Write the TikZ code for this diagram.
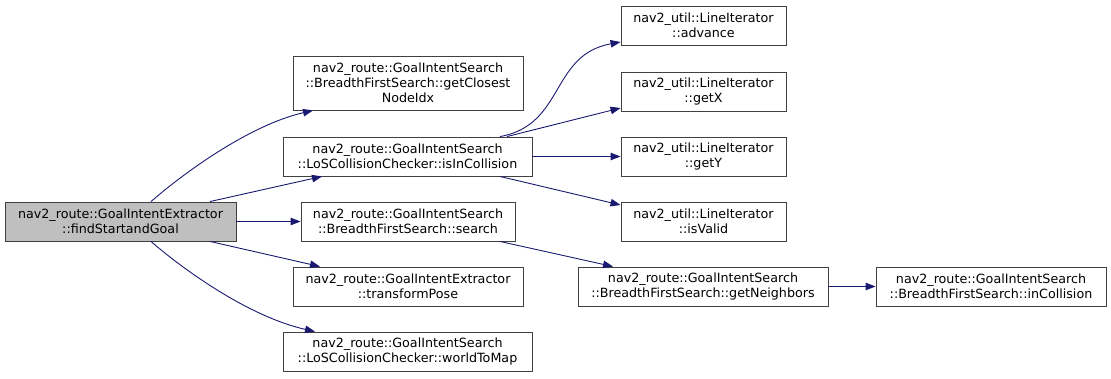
\documentclass[tikz,border=0pt]{standalone}
\usepackage{fontspec}
\setmainfont{DejaVu Sans}
\usetikzlibrary{arrows.meta}
\definecolor{edgec}{HTML}{191970}
\definecolor{rootfill}{HTML}{BFBFBF}
\definecolor{boxline}{HTML}{404040}
\tikzset{
  fn/.style={draw=boxline, line width=0.9pt, fill=white, inner sep=0pt, align=center,
     font=\fontsize{12.7}{15}\selectfont, text=black},
  rootbox/.style={fn, fill=rootfill},
  call/.style={draw=edgec, line width=0.9pt, -{Triangle[length=10pt,width=7.5pt]}},
}
\begin{document}
\begin{tikzpicture}[x=1pt, y=-1pt]
\useasboundingbox (0,0) rectangle (1111,379);
\node[rootbox, minimum width=231pt, minimum height=39pt] (root) at (120.5,221.5) {nav2\_route::GoalIntentExtractor\\::findStartandGoal};
\node[fn, minimum width=230pt, minimum height=54pt] (closest) at (408,83) {nav2\_route::GoalIntentSearch\\::BreadthFirstSearch::getClosest\\NodeIdx};
\node[fn, minimum width=249pt, minimum height=39pt] (iscol) at (407.5,156.5) {nav2\_route::GoalIntentSearch\\::LoSCollisionChecker::isInCollision};
\node[fn, minimum width=214pt, minimum height=39pt] (search) at (408,221.5) {nav2\_route::GoalIntentSearch\\::BreadthFirstSearch::search};
\node[fn, minimum width=230pt, minimum height=39pt] (pose) at (408,286.5) {nav2\_route::GoalIntentExtractor\\::transformPose};
\node[fn, minimum width=249pt, minimum height=39pt] (w2m) at (407.5,351.5) {nav2\_route::GoalIntentSearch\\::LoSCollisionChecker::worldToMap};
\node[fn, minimum width=165pt, minimum height=39pt] (adv) at (703.5,25.5) {nav2\_util::LineIterator\\::advance};
\node[fn, minimum width=165pt, minimum height=39pt] (getx) at (703.5,91.5) {nav2\_util::LineIterator\\::getX};
\node[fn, minimum width=165pt, minimum height=39pt] (gety) at (703.5,156.5) {nav2\_util::LineIterator\\::getY};
\node[fn, minimum width=165pt, minimum height=39pt] (valid) at (703.5,221.5) {nav2\_util::LineIterator\\::isValid};
\node[fn, minimum width=250pt, minimum height=39pt] (neigh) at (703,286.5) {nav2\_route::GoalIntentSearch\\::BreadthFirstSearch::getNeighbors};
\node[fn, minimum width=230pt, minimum height=39pt] (incol) at (991,286.5) {nav2\_route::GoalIntentSearch\\::BreadthFirstSearch::inCollision};

\draw[call] ([xshift=30.5pt]root.north) .. controls (185,172) and (250,125) .. ([xshift=-95pt]closest.south);
\draw[call] ([xshift=89.5pt]root.north) -- ([xshift=-85.5pt]iscol.south);
\draw[call] (root.east) -- (search.west);
\draw[call] ([xshift=89.5pt]root.south) -- ([xshift=-88pt]pose.north);
\draw[call] ([xshift=30.5pt]root.south) .. controls (185,271) and (250,317) .. ([xshift=-92.5pt]w2m.north);

\draw[call] ([xshift=92.5pt]iscol.north) .. controls (565,125) and (550,55) .. ([yshift=-16.5pt]adv.west);
\draw[call] ([xshift=99.5pt]iscol.north) -- ([yshift=-16.5pt]getx.west);
\draw[call] (iscol.east) -- (gety.west);
\draw[call] ([xshift=92.5pt]iscol.south) -- ([yshift=16.5pt]valid.west);

\draw[call] ([xshift=92pt]search.south) -- ([xshift=-90pt]neigh.north);
\draw[call] (neigh.east) -- (incol.west);
\end{tikzpicture}
\end{document}
